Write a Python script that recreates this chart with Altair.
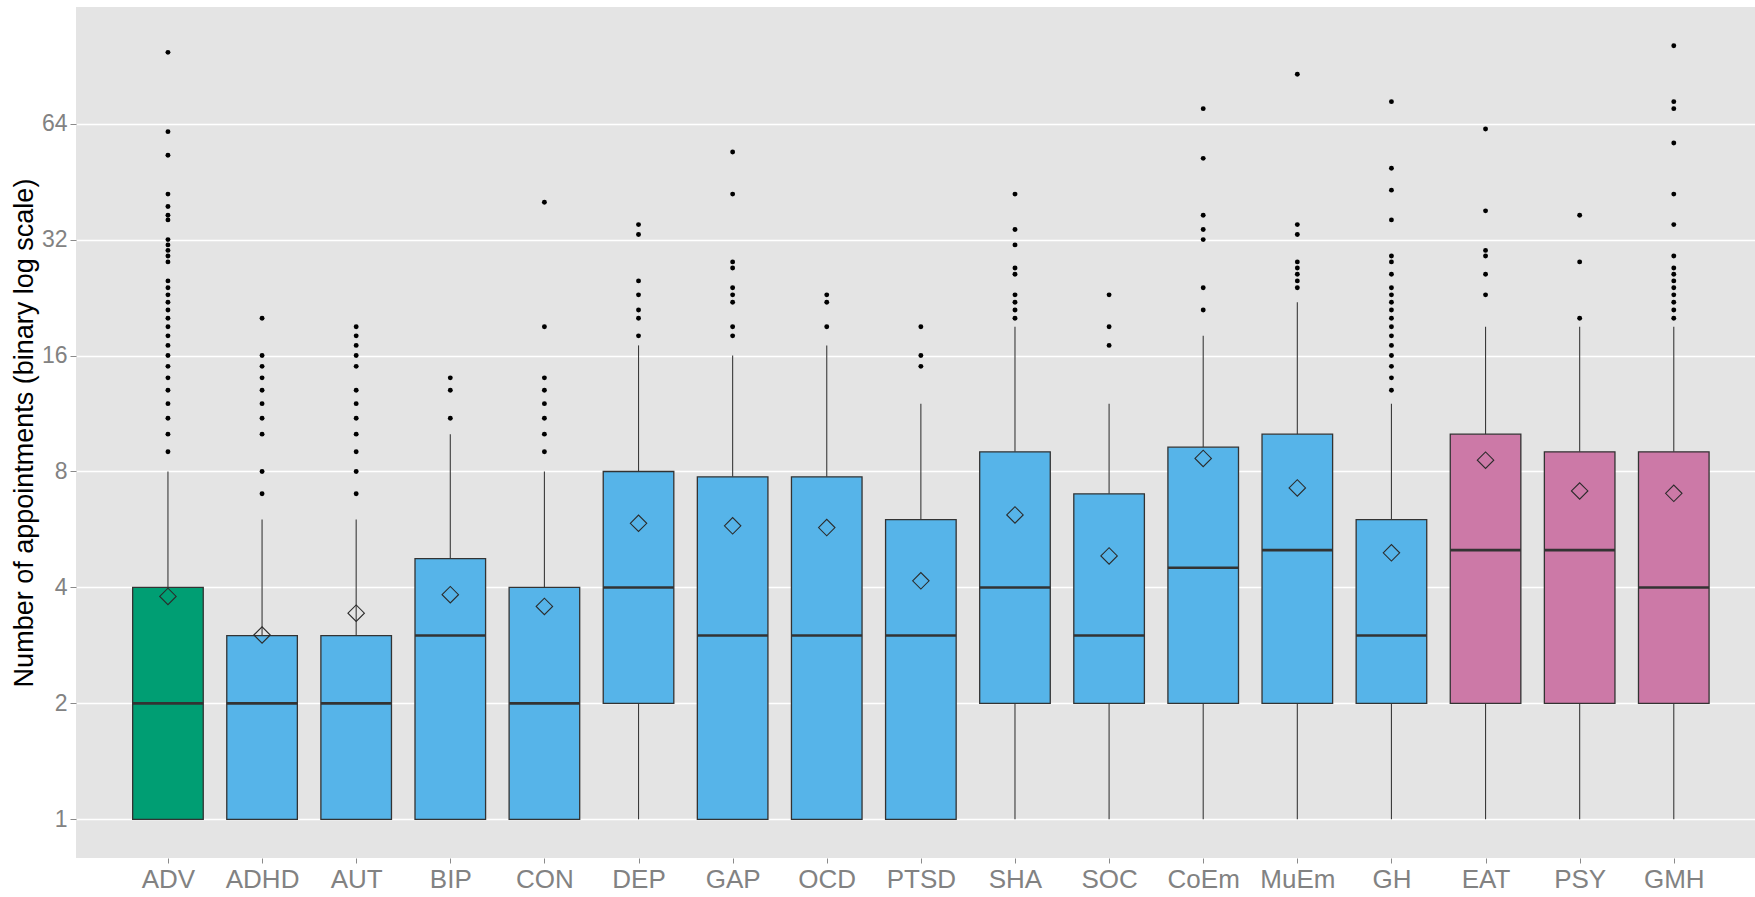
import altair as alt
import pandas as pd

# ---------------- data ----------------
cats = ["ADV", "ADHD", "AUT", "BIP", "CON", "DEP", "GAP", "OCD", "PTSD",
        "SHA", "SOC", "CoEm", "MuEm", "GH", "EAT", "PSY", "GMH"]
groups = ["Advice"] + ["Specific"] * 13 + ["General"] * 3

lower_whisker = [1, 1, 1, 1, 1, 1, 1, 1, 1, 1, 1, 1, 1, 1, 1, 1, 1]
q1 = [1, 1, 1, 1, 1, 2, 1, 1, 1, 2, 2, 2, 2, 2, 2, 2, 2]
median = [2, 2, 2, 3, 2, 4, 3, 3, 3, 4, 3, 4.5, 5, 3, 5, 5, 4]
q3 = [4, 3, 3, 4.75, 4, 8, 7.75, 7.75, 6, 9, 7, 9.25, 10, 6, 10, 9, 9]
upper_whisker = [8, 6, 6, 10, 8, 17, 16, 17, 12, 19, 12, 18, 22, 12, 19, 19, 19]
means = [3.79, 3.01, 3.43, 3.83, 3.57, 5.87, 5.78, 5.72, 4.16, 6.17, 4.83,
         8.65, 7.25, 4.92, 8.56, 7.12, 7.02]
outliers = [
    [9, 10, 11, 12, 13, 14, 15, 16, 17, 18, 19, 20, 21, 22, 23, 24, 25,
     28, 29, 30, 31, 32, 36, 37, 39, 42, 53, 61, 98],          # ADV
    [7, 8, 10, 11, 12, 13, 14, 15, 16, 20],                     # ADHD
    [7, 8, 9, 10, 11, 12, 13, 15, 16, 17, 18, 19],              # AUT
    [11, 13, 14],                                               # BIP
    [9, 10, 11, 12, 13, 14, 19, 40],                            # CON
    [18, 20, 21, 23, 25, 33, 35],                               # DEP
    [18, 19, 22, 23, 24, 27, 28, 42, 54],                       # GAP
    [19, 22, 23],                                               # OCD
    [15, 16, 19],                                               # PTSD
    [20, 21, 22, 23, 26, 27, 31, 34, 42],                       # SHA
    [17, 19, 23],                                               # SOC
    [21, 24, 32, 34, 37, 52, 70],                               # CoEm
    [24, 25, 26, 27, 28, 33, 35, 86],                           # MuEm
    [13, 14, 15, 16, 17, 18, 19, 20, 21, 22, 23, 24, 26, 28, 29,
     36, 43, 49, 73],                                           # GH
    [23, 26, 29, 30, 38, 62],                                   # EAT
    [20, 28, 37],                                               # PSY
    [20, 21, 22, 23, 24, 25, 26, 27, 29, 35, 42, 57, 70, 73, 102],  # GMH
]
y_ticks = [1, 2, 4, 8, 16, 32, 64]

group_domain = ["Advice", "Specific", "General"]
group_colors = ["#009E73", "#56B4E9", "#CC79A7"]

box_df = pd.DataFrame({
    "idx": list(range(len(cats))),
    "cat": cats,
    "grp": groups,
    "lo": lower_whisker,
    "q1": q1,
    "med": median,
    "q3": q3,
    "hi": upper_whisker,
    "mean": means,
})
out_df = pd.DataFrame(
    [{"idx": i, "cat": c, "v": v} for i, c in enumerate(cats) for v in outliers[i]]
)

# ---------------- styling ----------------
W, H = 1679, 851
HALF = 0.375  # half box width in category units
x_scale = alt.Scale(domain=[-0.977, 16.863], nice=False, zero=False)
y_scale = alt.Scale(type="log", base=2, domain=[2 ** -0.3336, 2 ** 7.006], nice=False)

label_expr = "[" + ",".join(f"'{c}'" for c in cats) + "][datum.value]"
x_axis = alt.Axis(values=list(range(len(cats))), labelExpr=label_expr, title=None,
                  grid=False, domain=False, tickColor="#8a8a8a", tickSize=5,
                  labelFontSize=26, labelColor="#828282", labelPadding=3,
                  labelFont="Liberation Sans")
y_axis = alt.Axis(values=y_ticks, title="Number of appointments (binary log scale)",
                  grid=True, gridColor="#FFFFFF", gridWidth=1.3, domain=False,
                  tickColor="#8a8a8a", tickSize=6, labelFontSize=23,
                  labelColor="#828282", labelPadding=3, labelFont="Liberation Sans",
                  titleFont="Liberation Sans", titleFontSize=27,
                  titleFontWeight="normal", titleColor="#000000", titlePadding=3)

base = alt.Chart(box_df).transform_calculate(
    xl=f"datum.idx - {HALF}", xr=f"datum.idx + {HALF}"
)

whisk_up = base.mark_rule(color="#3a3a3a", strokeWidth=1.1).encode(
    x=alt.X("idx:Q", scale=x_scale, axis=x_axis),
    y=alt.Y("q3:Q", scale=y_scale, axis=y_axis),
    y2="hi:Q",
)
whisk_lo = base.mark_rule(color="#3a3a3a", strokeWidth=1.1).encode(
    x=alt.X("idx:Q", scale=x_scale, axis=x_axis),
    y=alt.Y("lo:Q", scale=y_scale, axis=y_axis),
    y2="q1:Q",
)
boxes = base.mark_rect(stroke="#333333", strokeWidth=1.3).encode(
    x=alt.X("xl:Q", scale=x_scale, axis=x_axis),
    x2="xr:Q",
    y=alt.Y("q1:Q", scale=y_scale, axis=y_axis),
    y2="q3:Q",
    fill=alt.Fill("grp:N", scale=alt.Scale(domain=group_domain, range=group_colors),
                  legend=None),
)
medians = base.mark_rule(color="#333333", strokeWidth=2.6).encode(
    x=alt.X("xl:Q", scale=x_scale, axis=x_axis),
    x2="xr:Q",
    y=alt.Y("med:Q", scale=y_scale, axis=y_axis),
)
outs = alt.Chart(out_df).mark_circle(size=24, color="#000000", opacity=1).encode(
    x=alt.X("idx:Q", scale=x_scale, axis=x_axis),
    y=alt.Y("v:Q", scale=y_scale, axis=y_axis),
)
mean_pts = base.mark_point(shape="diamond", size=270, filled=False, color="#2b2b2b",
                           strokeWidth=1.1, opacity=1).encode(
    x=alt.X("idx:Q", scale=x_scale, axis=x_axis),
    y=alt.Y("mean:Q", scale=y_scale, axis=y_axis),
)

chart = alt.layer(whisk_up, whisk_lo, boxes, medians, outs, mean_pts).properties(
    width=W, height=H,
    autosize=alt.AutoSizeParams(type="none"),
    padding={"left": 76, "top": 7, "right": 0, "bottom": 39},
    background="#FFFFFF",
).configure_view(fill="#E4E4E4", stroke=None)

chart.save("out.html", embed_options={"renderer": "svg", "actions": False})
